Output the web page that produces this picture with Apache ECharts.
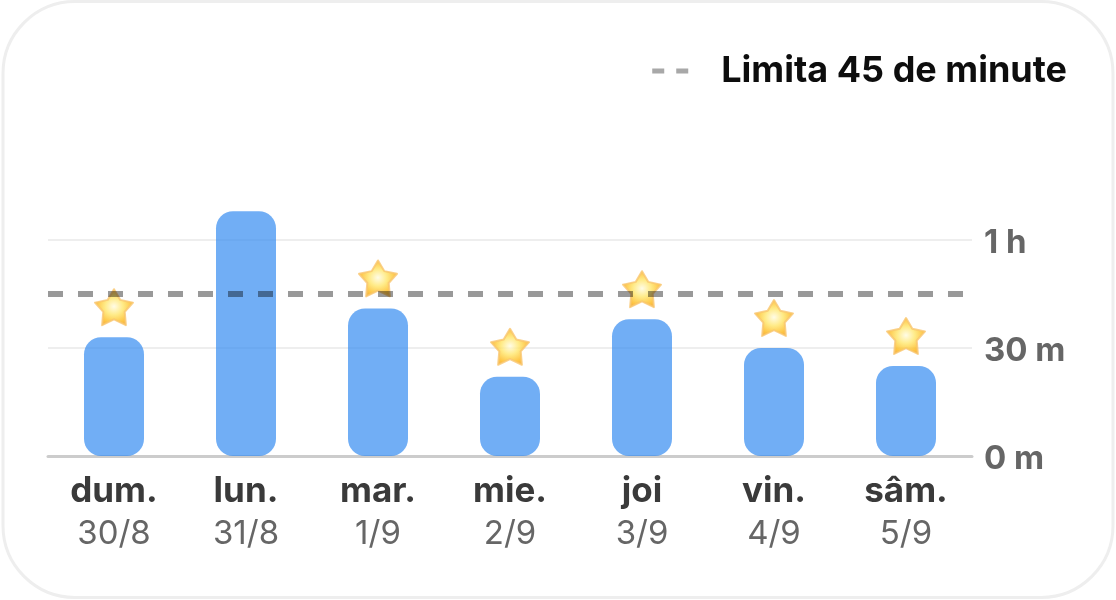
<!DOCTYPE html>
<html>
<head>
<meta charset="utf-8">
<script src="https://cdn.jsdelivr.net/npm/echarts@6/dist/echarts.min.js"></script>
<style>
  html, body { margin: 0; padding: 0; background: #fff; }
  #chart { width: 1116px; height: 600px; }
</style>
</head>
<body>
<div id="chart"></div>
<script>
const days = ["dum.", "lun.", "mar.", "mie.", "joi", "vin.", "sâm."];
const dates = ["30/8", "31/8", "1/9", "2/9", "3/9", "4/9", "5/9"];
const minutes = [33, 68, 41, 22, 38, 30, 25];
// days that got a star (the goal was not passed), null = no star
const stars = [33, null, 41, 22, 38, 30, 25];
const limit = 45;
const limitName = "Limita 45 de minute";
const tickValues = [0, 30, 60];
const tickLabels = ["0 m", "30 m", "1 h"];

const font = "Inter, 'Noto Sans', sans-serif";
const starPath = "path://M50 2 L66 30 L98 37 L77 61 L80 96 L50 81 L20 96 L23 61 L2 37 L34 30 Z";

const chart = echarts.init(document.getElementById("chart"));
chart.setOption({
  animation: false,
  backgroundColor: "#fff",
  textStyle: { fontFamily: font },
  graphic: [
    {
      type: "rect",
      silent: true,
      z: -10,
      shape: { x: 3, y: 1.5, width: 1110, height: 596, r: 72 },
      style: { fill: "#fff", stroke: "#eeeeee", lineWidth: 3 },
    },
  ],
  legend: {
    data: [{ name: limitName, icon: "path://M0 0H12V5H0Z M24 0H36V5H24Z", itemStyle: { color: "#a8a8a8" } }],
    right: 44,
    top: 48,
    itemWidth: 36,
    itemHeight: 5,
    selectedMode: false,
    lineStyle: { width: 0 },
    textStyle: {
      fontFamily: font,
      fontSize: 36,
      fontWeight: 700,
      color: "#0d0d0d",
      padding: [0, 0, 0, 28],
    },
  },
  grid: { left: 48, right: 144, top: 132, bottom: 144 },
  xAxis: {
    type: "category",
    data: days,
    axisTick: { show: false },
    axisLine: { lineStyle: { color: "#cccccc", width: 3 } },
    axisLabel: {
      interval: 0,
      margin: 14,
      formatter: (value, i) => `{day|${value}}\n{date|${dates[i]}}`,
      rich: {
        day: { fontFamily: font, fontSize: 35, fontWeight: 700, color: "#3a3a3a", lineHeight: 43 },
        date: { fontFamily: font, fontSize: 33, color: "#666666", lineHeight: 43 },
      },
    },
  },
  yAxis: {
    type: "value",
    position: "right",
    min: 0,
    max: 90,
    interval: 30,
    axisLine: { show: false },
    axisTick: { show: false },
    splitLine: { showMinLine: false, showMaxLine: false, lineStyle: { color: "#eeeeee", width: 2 } },
    axisLabel: {
      margin: 12,
      formatter: (value) => {
        const i = tickValues.indexOf(value);
        return i < 0 ? "" : `{tick|${tickLabels[i]}}`;
      },
      rich: {
        tick: {
          fontFamily: font,
          fontSize: 33,
          fontWeight: 700,
          color: "#666666",
          lineHeight: 40,
          padding: [2, 0, 0, 0],
          verticalAlign: "bottom",
        },
      },
    },
  },
  series: [
    {
      name: "Minute",
      type: "bar",
      barWidth: 60,
      data: minutes,
      itemStyle: { color: "rgba(52,140,241,0.7)", borderRadius: 17 },
    },
    {
      name: "Stele",
      type: "scatter",
      data: stars,
      symbol: starPath,
      symbolSize: [38, 36],
      symbolOffset: [0, -30],
      z: 3,
      itemStyle: {
        color: new echarts.graphic.RadialGradient(0.5, 0.48, 0.56, [
          { offset: 0, color: "#fffbe0" },
          { offset: 0.4, color: "#ffe66a" },
          { offset: 0.8, color: "#fdb515" },
          { offset: 1, color: "#f09a10" },
        ]),
        borderColor: "#f9c66e",
        borderWidth: 2,
        borderJoin: "round",
      },
    },
    {
      name: limitName,
      type: "line",
      data: [],
      symbol: "none",
      lineStyle: { color: "rgba(0,0,0,0.4)", width: 6 },
      z: 5,
      markLine: {
        silent: true,
        symbol: "none",
        z: 5,
        label: { show: false },
        lineStyle: { color: "rgba(0,0,0,0.4)", width: 6, type: [15, 15] },
        data: [{ yAxis: limit }],
      },
    },
  ],
});
</script>
</body>
</html>
